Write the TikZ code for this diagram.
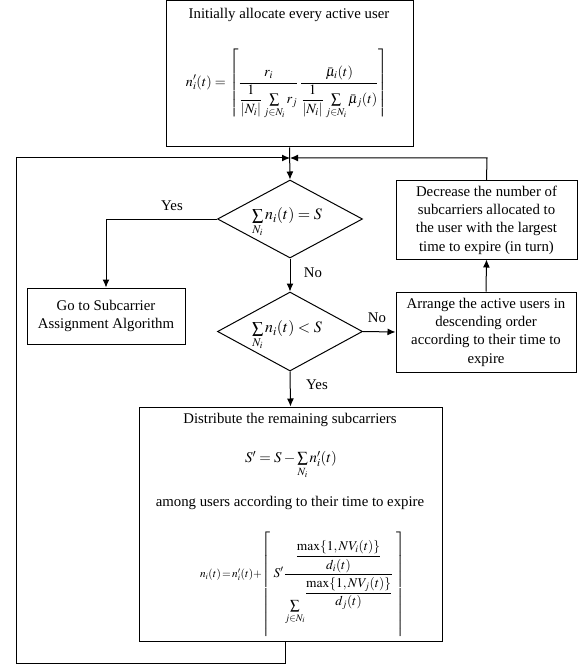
\documentclass[tikz,border=0pt]{standalone}
\usepackage{amsmath}
\usepackage{graphicx}
\usepackage{mathptmx}
\usepackage[no-math]{fontspec}
\setmainfont{Liberation Serif}
\usetikzlibrary{shapes.geometric,arrows.meta}
\newcommand{\myceilL}{\raisebox{-10pt}{$\displaystyle\delimitershortfall=0pt\delimiterfactor=1000\left\lceil\vrule height 55pt depth 50pt width 0pt\right.$}}
\newcommand{\myceilR}{\raisebox{-10pt}{$\displaystyle\delimitershortfall=0pt\delimiterfactor=1000\left.\vrule height 55pt depth 50pt width 0pt\right\rceil$}}
\begin{document}
\begin{tikzpicture}[x=1pt,y=-1pt,
  box/.style={draw, line width=1pt, inner sep=0pt},
  dia/.style={draw, diamond, line width=1pt, inner sep=0pt},
  txt/.style={inner sep=0pt, align=center, font=\fontsize{14.8}{18.3}\selectfont},
  mth/.style={inner sep=0pt, font=\fontsize{14}{16}\selectfont},
  lbl/.style={inner sep=0pt, font=\fontsize{14.8}{16}\selectfont},
  arr/.style={line width=1pt, -{Latex[length=8pt,width=7pt]}}]
\useasboundingbox (0,0) rectangle (583,668);
% boxes
\node[box, minimum width=247pt, minimum height=146pt] (top) at (289.5,74) {};
\node[dia, minimum width=145pt, minimum height=78pt] (d1) at (290,219) {};
\node[dia, minimum width=145pt, minimum height=79pt] (d2) at (290,331.5) {};
\node[box, minimum width=158pt, minimum height=56pt] (go) at (106,316) {};
\node[box, minimum width=181pt, minimum height=78pt] (dec) at (486.5,220) {};
\node[box, minimum width=180pt, minimum height=80pt] (arr) at (486,332) {};
\node[box, minimum width=303pt, minimum height=234pt] (dist) at (290.5,524) {};
% texts
\node[txt] (t1) at (289,15) {Initially allocate every active user};
\node[mth] (f1) at (287,84) {\resizebox{202pt}{!}{$\displaystyle n_i'(t)=\left\lceil\frac{\rule{0pt}{18pt}r_i}{\dfrac{1}{|N_i|}\textstyle\sum\limits_{j\in N_i} r_j}\,\frac{\rule{0pt}{18pt}\bar{\mu}_i(t)}{\dfrac{1}{|N_i|}\textstyle\sum\limits_{j\in N_i}\bar{\mu}_j(t)}\right\rceil$}};
\node[mth] (fd1) at (287,222.5) {\resizebox{70pt}{!}{$\textstyle\sum\limits_{N_i} n_i(t)=S$}};
\node[mth] (fd2) at (287,335.5) {\resizebox{70pt}{!}{$\textstyle\sum\limits_{N_i} n_i(t)<S$}};
\node[txt] (tgo) at (go) {Go to Subcarrier\\Assignment Algorithm};
\node[txt] (tdec) at (dec) {Decrease the number of\\subcarriers allocated to\\the user with the largest\\time to expire (in turn)};
\node[txt] (tarr) at (arr) {Arrange the active users in\\descending order\\according to their time to\\expire};
\node[txt] (t2) at (290,420) {Distribute the remaining subcarriers};
\node[mth] (f2) at (291,465) {\resizebox{92pt}{!}{$\textstyle S'=S-\sum\limits_{N_i} n_i'(t)$}};
\node[txt] (t3) at (290,503) {among users according to their time to expire};
\node[mth] (f3) at (302.5,584) {\resizebox{205pt}{!}{$\displaystyle\mbox{\fontsize{11.8}{13}\selectfont$\thickmuskip=2mu\medmuskip=1.5mu n_i(t)=n_i'(t)+$}\myceilL\,S'\frac{\dfrac{\max\{1,NV_i(t)\}}{d_i(t)}}{\rule{0pt}{21pt}\raisebox{-14pt}{$\textstyle\sum\limits_{j\in N_i}$}\dfrac{\max\{1,NV_j(t)\}}{d_j(t)}}\,\myceilR$}};
% labels
\node[lbl] (y1) at (172,206) {Yes};
\node[lbl] (n1) at (313,273) {No};
\node[lbl] (n2) at (377,318) {No};
\node[lbl] (y2) at (317,385) {Yes};
% coordinates
\coordinate (m) at (290,158);
\coordinate (dt) at (487,158);
\coordinate (lb) at (285,663);
\coordinate (lbl2) at (16,663);
\coordinate (lt) at (16,158);
% connectors
\draw[arr] (top.south) -- (d1.north);
\draw[arr] (d1.west) -| (go.north);
\draw[arr] (d1.south) -- (d2.north);
\draw[arr] (d2.east) -- (arr.west);
\draw[arr] (d2.south) -- (dist.north);
\draw[arr] (arr.north) -- (dec.south);
\draw[arr] (dec.north) -- (dt) -- (m);
\draw[arr] (dist.south -| lb) -- (lb) -- (lbl2) -- (lt) -- (m);
\end{tikzpicture}
\end{document}
